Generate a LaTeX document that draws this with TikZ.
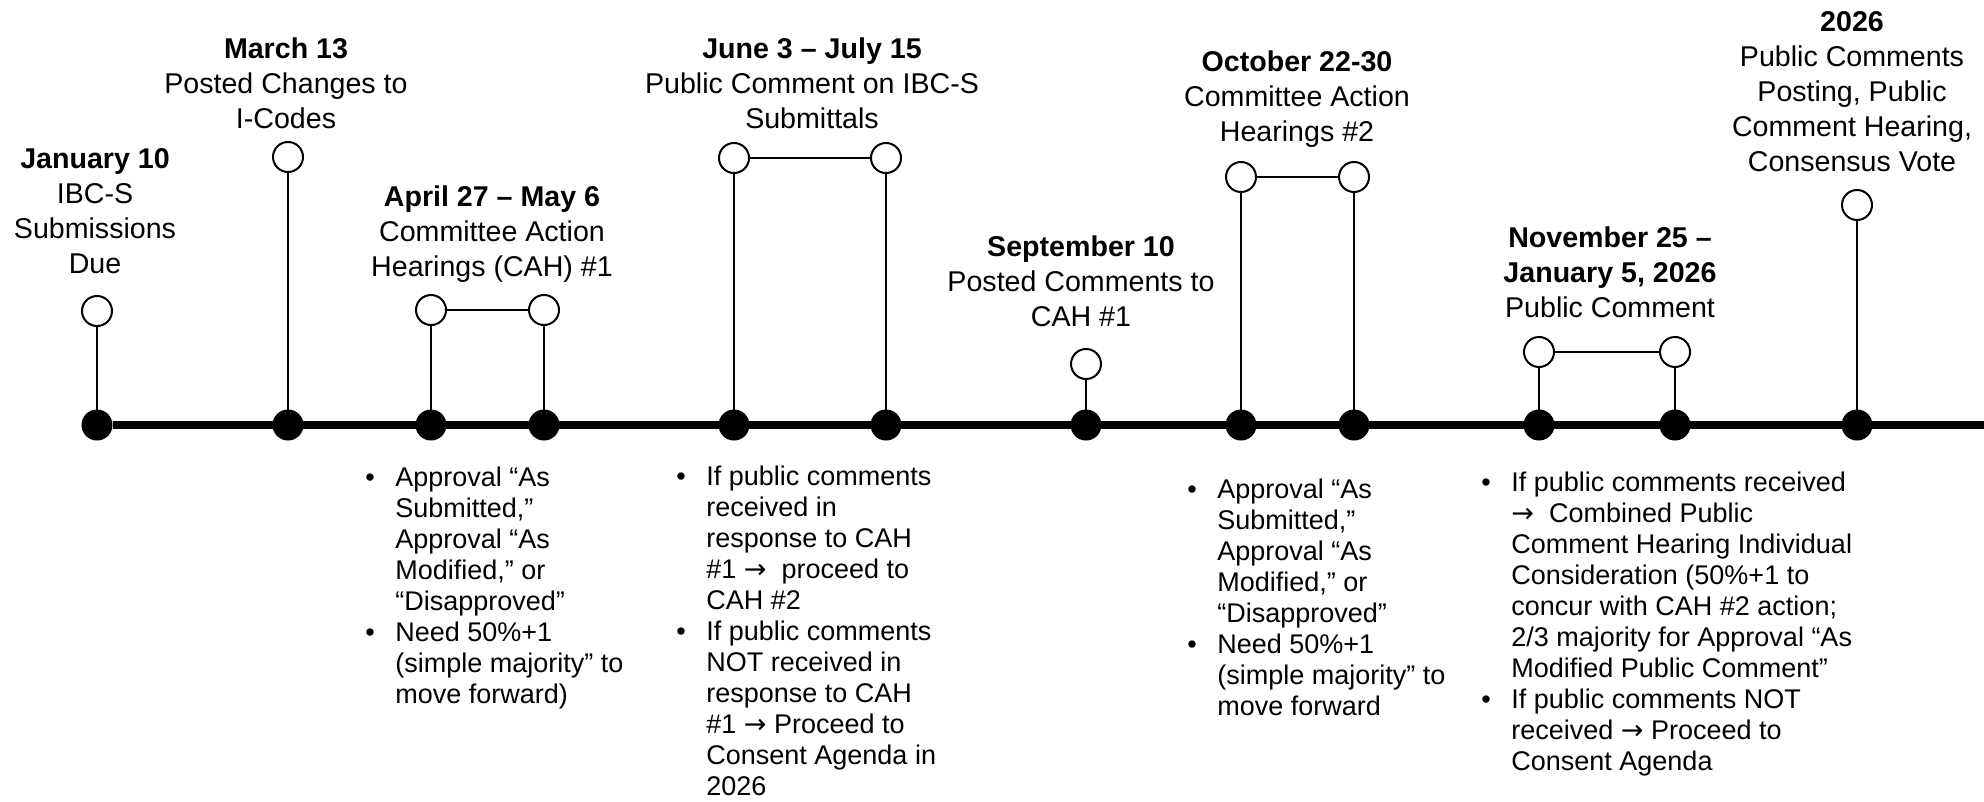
\documentclass[tikz,border=0pt]{standalone}
\usepackage{fontspec}
\setmainfont{Liberation Sans}
\newfontfamily\arrowfont{DejaVu Sans}
\usetikzlibrary{positioning}

\newcommand{\notebullet}{\makebox[15pt][l]{\textbullet}}
\newcommand{\noteindent}{\hspace*{15pt}}
\newcommand{\notearrow}{{\arrowfont →}}

\begin{document}
\begin{tikzpicture}[
      x=0.5pt, y=-0.5pt,
      filleddot/.style={circle,fill=black,draw=black,line width=0.5pt,inner sep=0pt,minimum size=15pt},
      opendot/.style={circle,fill=white,draw=black,line width=1pt,inner sep=0pt,minimum size=15pt},
      stemline/.style={line width=1.3pt},
      timeline/.style={line width=3.8pt},
      datetext/.style={align=center,inner sep=0pt,font=\fontsize{14.3pt}{17.5pt}\selectfont},
      notes/.style={align=left,anchor=north west,inner sep=0pt,font=\fontsize{13.5pt}{15.5pt}\selectfont}
    ]
        \useasboundingbox (0,0) rectangle (1984,802);
        \coordinate (lineend) at (1984,425);
        \foreach \n/\x/\y in {1/97/311,2/288/157,3/431/310,4/544/310,5/734/158,6/886/158,
                              7/1086/364,8/1241/177,9/1354/177,10/1539/352,11/1675/352,12/1857/205}{
          \node[filleddot] (d\n) at (\x,425) {};
          \node[opendot] (c\n) at (\x,\y) {};
        }
        \draw[timeline] (d1) -- (lineend);
        \foreach \n in {1,...,12} \path (d\n) edge[stemline] (c\n);
        \path (c3) edge[stemline] (c4)
              (c5) edge[stemline] (c6)
              (c8) edge[stemline] (c9)
              (c10) edge[stemline] (c11);

        \node[datetext] (t1) at (95,211) {\textbf{January 10}\\IBC-S\\Submissions\\Due};
        \node[datetext] (t2) at (286,83) {\textbf{March 13}\\Posted Changes to\\I-Codes};
        \node[datetext] (t3) at (492,234) {\textbf{April 27 – May 6}\\Committee Action\\Hearings (CAH) \#1};
        \node[datetext] (t4) at (812,83) {\textbf{June 3 – July 15}\\Public Comment on IBC-S\\Submittals};
        \node[datetext] (t5) at (1081,281) {\textbf{September 10}\\Posted Comments to\\CAH \#1};
        \node[datetext] (t6) at (1297,99) {\textbf{October 22-30}\\Committee Action\\Hearings \#2};
        \node[datetext] (t7) at (1610,272) {\textbf{November 25 –}\\\textbf{January 5, 2026}\\Public Comment};
        \node[datetext] (t8) at (1852,92) {\textbf{2026}\\Public Comments\\Posting, Public\\Comment Hearing,\\Consensus Vote};

        \node[notes] (n1) at (365,467) {\notebullet Approval “As\\\noteindent Submitted,”\\\noteindent Approval “As\\
          \noteindent Modified,” or\\\noteindent “Disapproved”\\\notebullet Need 50\%+1\\
          \noteindent (simple majority” to\\\noteindent move forward)};
        \node[notes] (n2) at (676,466) {\notebullet If public comments\\\noteindent received in\\\noteindent response to CAH\\
          \noteindent \#1 \notearrow~ proceed to\\\noteindent CAH \#2\\\notebullet If public comments\\
          \noteindent NOT received in\\\noteindent response to CAH\\\noteindent \#1 \notearrow{} Proceed to\\
          \noteindent Consent Agenda in\\\noteindent 2026};
        \node[notes] (n3) at (1187,479) {\notebullet Approval “As\\\noteindent Submitted,”\\\noteindent Approval “As\\
          \noteindent Modified,” or\\\noteindent “Disapproved”\\\notebullet Need 50\%+1\\
          \noteindent (simple majority” to\\\noteindent move forward};
        \node[notes] (n4) at (1481,472) {\notebullet If public comments received\\\noteindent \notearrow~ Combined Public\\
          \noteindent Comment Hearing Individual\\\noteindent Consideration (50\%+1 to\\
          \noteindent concur with CAH \#2 action;\\\noteindent 2/3 majority for Approval “As\\
          \noteindent Modified Public Comment”\\\notebullet If public comments NOT\\
          \noteindent received \notearrow{} Proceed to\\\noteindent Consent Agenda};
    \end{tikzpicture}
\end{document}
